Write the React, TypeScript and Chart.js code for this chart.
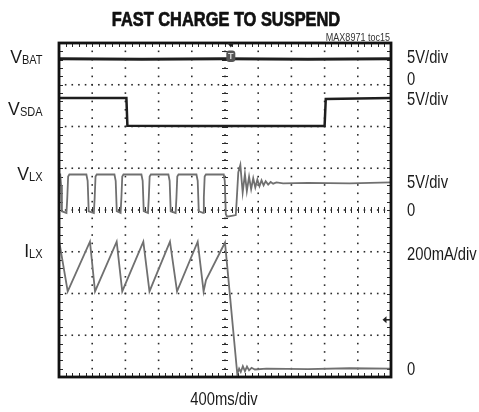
import React, { useEffect, useRef } from "react";
import { Chart, registerables } from "chart.js";

Chart.register(...registerables);

const FONT = '"Liberation Sans", Arial, sans-serif';
const SQUEEZE = 0.82; // condensed look

// ---- text ----
const TITLE = "FAST CHARGE TO SUSPEND";
const NOTE = "MAX8971 toc15";
const X_LABEL = "400ms/div";

// ---- scope geometry (in scale units) ----
const MS_PER_DIV = 400;
const X_DIVS = 10;
const Y_DIVS = 8;

// ---- channel labels ----
const LEFT_MAIN = ["V", "V", "V", "I"];
const LEFT_SUB = ["BAT", "SDA", "LX", "LX"];
const LEFT_LEVELS = [7.68, 6.43, 4.87, 3.03]; // divisions (cap middle)
const RIGHT_LABELS = ["5V/div", "0", "5V/div", "5V/div", "0", "200mA/div", "0"];
const RIGHT_LEVELS = [7.68, 7.15, 6.67, 4.68, 4.01, 2.96, 0.2]; // divisions (cap middle)
const TRIGGER_MS = 2070;
const ARROW_LEVEL = 1.37;

// ---- traces: [time ms, level in divisions] ----
const VBAT: [number, number][] = [
  [0, 7.62], [1000, 7.61], [2000, 7.62], [3000, 7.61], [4000, 7.62],
];

const VSDA: [number, number][] = [
  [0, 6.68], [812, 6.68], [824, 6.02], [1600, 6.01], [3200, 6.01], [3214, 6.66], [4000, 6.68],
];

const VLX: [number, number][] = [
  [0, 4.85], [15, 4.85], [25, 4.6], [35, 3.97], [90, 3.93], [100, 4.3], [110, 4.8], [125, 4.85],
  [330, 4.85], [345, 4.7], [358, 3.97], [420, 3.93], [430, 4.3], [440, 4.8], [455, 4.85],
  [668, 4.85], [683, 4.7], [696, 3.97], [742, 3.93], [752, 4.3], [762, 4.8], [777, 4.85],
  [993, 4.85], [1008, 4.7], [1021, 3.97], [1072, 3.93], [1082, 4.3], [1092, 4.8], [1107, 4.85],
  [1318, 4.85], [1333, 4.7], [1346, 3.97], [1405, 3.93], [1415, 4.3], [1425, 4.8], [1440, 4.85],
  [1656, 4.85], [1671, 4.7], [1684, 3.97], [1735, 3.93], [1745, 4.3], [1755, 4.8], [1770, 4.85],
  [1985, 4.85], [1997, 4.7], [2010, 3.9], [2025, 3.84], [2080, 3.86], [2130, 3.88],
  [2140, 4.2], [2160, 4.9], [2185, 5.08], [2213, 4.42], [2240, 4.86], [2263, 4.45],
  [2290, 4.8], [2315, 4.5], [2340, 4.76], [2365, 4.54], [2390, 4.73], [2415, 4.57],
  [2440, 4.71], [2465, 4.59], [2490, 4.69], [2520, 4.61], [2550, 4.67], [2580, 4.63],
  [2620, 4.66], [2700, 4.64], [3000, 4.65], [3500, 4.64], [4000, 4.66],
];

const ILX: [number, number][] = [
  [0, 3.28], [105, 2.05], [373, 3.24], [434, 2.05], [695, 3.24], [762, 2.05],
  [1016, 3.24], [1090, 2.05], [1337, 3.24], [1422, 2.05], [1671, 3.24], [1742, 2.05],
  [1771, 2.32], [2000, 3.22], [2148, 0.07], [2170, 0.2], [2190, 0.12], [2215, 0.26],
  [2240, 0.14], [2265, 0.25], [2290, 0.16], [2320, 0.22], [2360, 0.18], [2500, 0.2],
  [3000, 0.19], [3500, 0.21], [4000, 0.2],
];

const BLACK = "#1e1e1e";
const GRAY = "#707070";
const GRID = "#2a2a2a";
const TEXT = "#1a1a1a";

const toPoints = (s: [number, number][]) => s.map(([x, y]) => ({ x, y }));

function drawText(
  ctx: CanvasRenderingContext2D,
  text: string,
  x: number,
  y: number,
  size: number,
  align: CanvasTextAlign,
  weight = "normal",
  color = TEXT,
  squeeze = SQUEEZE,
  stroke = 0,
) {
  ctx.save();
  ctx.translate(x, y);
  ctx.scale(squeeze, 1);
  ctx.font = `${weight} ${size}px ${FONT}`;
  ctx.fillStyle = color;
  ctx.textAlign = align;
  ctx.textBaseline = "alphabetic";
  ctx.fillText(text, 0, 0);
  if (stroke > 0) {
    ctx.strokeStyle = color;
    ctx.lineWidth = stroke;
    ctx.lineJoin = "round";
    ctx.strokeText(text, 0, 0);
  }
  ctx.restore();
}

function textWidth(ctx: CanvasRenderingContext2D, text: string, size: number, squeeze: number) {
  ctx.save();
  ctx.font = `normal ${size}px ${FONT}`;
  const w = ctx.measureText(text).width * squeeze;
  ctx.restore();
  return w;
}

const scopePlugin = {
  id: "scope",
  beforeDatasetsDraw(chart: any) {
    const { ctx, chartArea: a, scales } = chart;
    const xs = scales.x;
    const ys = scales.y;
    ctx.save();
    ctx.fillStyle = GRID;
    const d = 1.6;
    for (let i = 1; i < X_DIVS; i++) {
      const px = xs.getPixelForValue(i * MS_PER_DIV);
      for (let k = 0; k <= Y_DIVS * 5; k++) {
        const py = ys.getPixelForValue(k / 5);
        ctx.fillRect(px - d / 2, py - d / 2, d, d);
      }
    }
    for (let j = 1; j < Y_DIVS; j++) {
      const py = ys.getPixelForValue(j);
      for (let k = 0; k <= X_DIVS * 5; k++) {
        const px = xs.getPixelForValue((k * MS_PER_DIV) / 5);
        ctx.fillRect(px - d / 2, py - d / 2, d, d);
      }
    }
    const cx = xs.getPixelForValue((X_DIVS / 2) * MS_PER_DIV);
    const cy = ys.getPixelForValue(Y_DIVS / 2);
    ctx.strokeStyle = GRID;
    ctx.lineWidth = 1;
    ctx.beginPath();
    for (let k = 0; k <= Y_DIVS * 5; k++) {
      const py = Math.round(ys.getPixelForValue(k / 5)) + 0.5;
      ctx.moveTo(cx - 3, py);
      ctx.lineTo(cx + 3, py);
      ctx.moveTo(a.left, py);
      ctx.lineTo(a.left + 4, py);
      ctx.moveTo(a.right, py);
      ctx.lineTo(a.right - 4, py);
    }
    for (let k = 0; k <= X_DIVS * 5; k++) {
      const px = Math.round(xs.getPixelForValue((k * MS_PER_DIV) / 5)) + 0.5;
      ctx.moveTo(px, cy - 3);
      ctx.lineTo(px, cy + 3);
      ctx.moveTo(px, a.top);
      ctx.lineTo(px, a.top + 4);
      ctx.moveTo(px, a.bottom);
      ctx.lineTo(px, a.bottom - 4);
    }
    ctx.stroke();
    ctx.restore();
  },
  afterDatasetsDraw(chart: any) {
    const { ctx, chartArea: a, scales } = chart;
    const xs = scales.x;
    const ys = scales.y;
    ctx.save();
    // border
    ctx.strokeStyle = "#111";
    ctx.lineWidth = 2.8;
    ctx.strokeRect(a.left, a.top, a.right - a.left, a.bottom - a.top);

    // trigger marker
    const tx = xs.getPixelForValue(TRIGGER_MS);
    ctx.fillStyle = "#222";
    ctx.beginPath();
    ctx.moveTo(tx - 3.5, a.top);
    ctx.lineTo(tx + 3.5, a.top);
    ctx.lineTo(tx, a.top + 4.5);
    ctx.closePath();
    ctx.fill();
    ctx.fillStyle = "#555";
    ctx.beginPath();
    if ((ctx as any).roundRect) (ctx as any).roundRect(tx - 4.5, a.top + 7.5, 9, 11.5, 3);
    else ctx.rect(tx - 4.5, a.top + 7.5, 9, 11.5);
    ctx.fill();
    ctx.fillStyle = "#d8d8d8";
    ctx.font = `bold 9px ${FONT}`;
    ctx.textAlign = "center";
    ctx.textBaseline = "middle";
    ctx.fillText("T", tx, a.top + 13.5);

    // ground arrow on right edge
    const ay = ys.getPixelForValue(ARROW_LEVEL);
    ctx.fillStyle = "#222";
    ctx.beginPath();
    ctx.moveTo(a.right - 8.5, ay);
    ctx.lineTo(a.right - 4.5, ay - 3.5);
    ctx.lineTo(a.right - 4.5, ay + 3.5);
    ctx.closePath();
    ctx.fill();
    ctx.strokeStyle = "#222";
    ctx.lineWidth = 1.5;
    ctx.beginPath();
    ctx.moveTo(a.right - 5, ay);
    ctx.lineTo(a.right - 1, ay);
    ctx.stroke();
    ctx.restore();

    // title, note and x label
    const midX = (a.left + a.right) / 2;
    drawText(ctx, TITLE, midX + 1, a.top - 17, 20, "center", "bold", "#111", SQUEEZE, 0.7);
    drawText(ctx, NOTE, a.right - 1, a.top - 2.3, 11, "right", "normal", "#333");
    drawText(ctx, X_LABEL, midX - 1, a.bottom + 28, 18, "center");

    // right side scale labels
    const capHalf = 6.45;
    for (let i = 0; i < RIGHT_LABELS.length; i++) {
      const y = ys.getPixelForValue(RIGHT_LEVELS[i]) + capHalf;
      drawText(ctx, RIGHT_LABELS[i], a.right + 16, y, 18, "left");
    }

    // channel names with subscripts
    const rightEdge = a.left - 16.5;
    const mainSq = 0.98;
    const subSq = 0.88;
    for (let i = 0; i < LEFT_MAIN.length; i++) {
      const y = ys.getPixelForValue(LEFT_LEVELS[i]) + capHalf;
      const sw = textWidth(ctx, LEFT_SUB[i], 12.5, subSq);
      const mw = textWidth(ctx, LEFT_MAIN[i], 18, mainSq);
      drawText(ctx, LEFT_MAIN[i], rightEdge - sw - mw, y, 18, "left", "normal", TEXT, mainSq);
      drawText(ctx, LEFT_SUB[i], rightEdge - sw, y + 1, 12.5, "left", "normal", TEXT, subSq);
    }
  },
};

export default function App() {
  const ref = useRef<HTMLCanvasElement | null>(null);

  useEffect(() => {
    document.body.style.margin = "0";
    const canvas = ref.current;
    if (!canvas) return;
    const chart = new Chart(canvas, {
      type: "line",
      data: {
        datasets: [
          { label: "VBAT", data: toPoints(VBAT), borderColor: BLACK, borderWidth: 3 },
          { label: "VSDA", data: toPoints(VSDA), borderColor: BLACK, borderWidth: 2.5 },
          { label: "VLX", data: toPoints(VLX), borderColor: GRAY, borderWidth: 1.8 },
          { label: "ILX", data: toPoints(ILX), borderColor: GRAY, borderWidth: 1.8 },
        ].map((d) => ({ ...d, pointRadius: 0, tension: 0, fill: false, yAxisID: "y", xAxisID: "x" })),
      },
      options: {
        animation: false,
        responsive: false,
        events: [],
        layout: { padding: { left: 59, right: 88, top: 43, bottom: 35 } },
        plugins: {
          legend: { display: false },
          tooltip: { enabled: false },
          title: { display: false },
        },
        scales: {
          x: { type: "linear", display: false, min: 0, max: X_DIVS * MS_PER_DIV },
          y: { type: "linear", display: false, min: 0, max: Y_DIVS },
        },
      } as any,
      plugins: [scopePlugin],
    });
    return () => chart.destroy();
  }, []);

  return (
    <div style={{ width: 479, height: 412, background: "#fff" }}>
      <canvas ref={ref} width={479} height={412} style={{ display: "block" }} />
    </div>
  );
}
